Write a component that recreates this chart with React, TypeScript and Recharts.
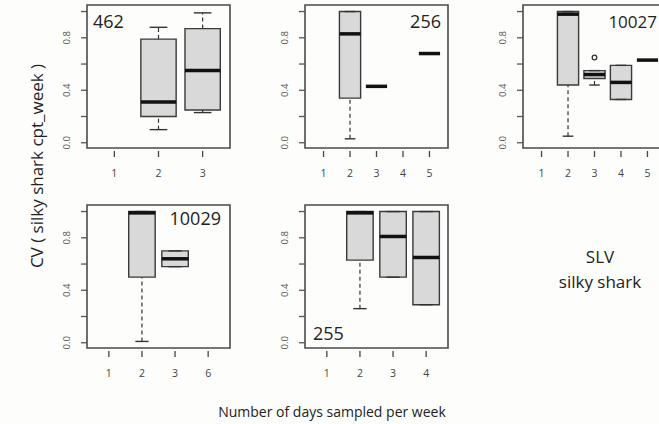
import React from 'react';
import { ComposedChart, XAxis, YAxis, ReferenceArea, ReferenceLine, Scatter } from 'recharts';

// box stats per group: [lower whisker, Q1, median, Q3, upper whisker]
type Box = [number, number, number, number, number] | null;
type Pt = { x: number; y: number };

const days462 = ['1', '2', '3'];
const box462: Box[] = [null, [0.1, 0.2, 0.31, 0.79, 0.88], [0.23, 0.25, 0.55, 0.87, 0.99]];
const out462: Pt[] = [];

const days256 = ['1', '2', '3', '4', '5'];
const box256: Box[] = [null, [0.03, 0.34, 0.83, 1.0, 1.0], [0.43, 0.43, 0.43, 0.43, 0.43], null, [0.68, 0.68, 0.68, 0.68, 0.68]];
const out256: Pt[] = [];

const days10027 = ['1', '2', '3', '4', '5'];
const box10027: Box[] = [null, [0.05, 0.44, 0.98, 1.0, 1.0], [0.44, 0.49, 0.52, 0.55, 0.55], [0.33, 0.33, 0.46, 0.59, 0.59], [0.63, 0.63, 0.63, 0.63, 0.63]];
const out10027: Pt[] = [{ x: 3, y: 0.65 }];

const days10029 = ['1', '2', '3', '6'];
const box10029: Box[] = [null, [0.01, 0.5, 0.99, 1.0, 1.0], [0.58, 0.58, 0.64, 0.7, 0.7], null];
const out10029: Pt[] = [];

const days255 = ['1', '2', '3', '4'];
const box255: Box[] = [null, [0.26, 0.63, 0.99, 1.0, 1.0], [0.5, 0.5, 0.81, 1.0, 1.0], [0.29, 0.29, 0.65, 1.0, 1.0]];
const out255: Pt[] = [];

const yTicks = [0, 0.2, 0.4, 0.6, 0.8, 1.0];
const yLabels = ['0.0', '', '0.4', '', '0.8', ''];

const FONT = '"Open Sans", "Noto Sans", sans-serif';
const Y_LO = -0.04;
const Y_HI = 1.05;

const YTick = (props: any) => {
  const { x, y, payload } = props;
  const i = yTicks.indexOf(payload.value);
  const txt = i >= 0 ? yLabels[i] : '';
  if (!txt) return null;
  return (
    <text
      x={x - 12}
      y={y}
      transform={`rotate(-90 ${x - 12} ${y})`}
      textAnchor="middle"
      dominantBaseline="central"
      fontSize={9.5}
      fill="#555"
      fontFamily={FONT}
    >
      {txt}
    </text>
  );
};

interface PanelProps {
  days: string[];
  boxes: Box[];
  outliers: Pt[];
  left: number;
  top: number;
}

const Panel: React.FC<PanelProps> = ({ days, boxes, outliers, left, top }) => {
  const n = days.length;
  const x0 = 0.5 - 0.04 * n;
  const x1 = n + 0.5 + 0.04 * n;
  const xTicks = days.map((_, i) => i + 1);

  const XTick = (props: any) => {
    const { x, y, payload } = props;
    return (
      <g>
        <line x1={x} x2={x} y1={y + 3} y2={y + 9} stroke="#444" strokeWidth={1.3} />
        <text x={x} y={y + 29} textAnchor="middle" fontSize={10.5} fill="#444" fontFamily={FONT}>
          {days[payload.value - 1]}
        </text>
      </g>
    );
  };

  const marks: React.ReactNode[] = [];
  boxes.forEach((b, i) => {
    if (!b) return;
    const x = i + 1;
    const [lo, q1, med, q3, hi] = b;
    const k = `g${i}`;
    if (lo < q1)
      marks.push(
        <ReferenceLine key={k + 'wl'} segment={[{ x, y: lo }, { x, y: q1 }]} stroke="#333" strokeWidth={1.2} strokeDasharray="4 3" ifOverflow="visible" />
      );
    if (hi > q3)
      marks.push(
        <ReferenceLine key={k + 'wh'} segment={[{ x, y: q3 }, { x, y: hi }]} stroke="#333" strokeWidth={1.2} strokeDasharray="4 3" ifOverflow="visible" />
      );
    marks.push(
      <ReferenceLine key={k + 'cl'} segment={[{ x: x - 0.2, y: lo }, { x: x + 0.2, y: lo }]} stroke="#333" strokeWidth={1.4} ifOverflow="visible" />
    );
    marks.push(
      <ReferenceLine key={k + 'ch'} segment={[{ x: x - 0.2, y: hi }, { x: x + 0.2, y: hi }]} stroke="#333" strokeWidth={1.4} ifOverflow="visible" />
    );
    if (q3 > q1)
      marks.push(
        <ReferenceArea key={k + 'b'} x1={x - 0.4} x2={x + 0.4} y1={q1} y2={q3} fill="#d9d9d9" fillOpacity={1} stroke="#3a3a3a" strokeWidth={1.4} ifOverflow="visible" />
      );
    marks.push(
      <ReferenceLine key={k + 'm'} segment={[{ x: x - 0.4, y: med }, { x: x + 0.4, y: med }]} stroke="#111" strokeWidth={3.5} ifOverflow="visible" />
    );
  });

  return (
    <div style={{ position: 'absolute', left: left - 40, top: top - 5 }}>
      <ComposedChart width={187} height={182} margin={{ top: 5, right: 4, bottom: 0, left: 10 }}>
        <XAxis
          dataKey="x"
          type="number"
          domain={[x0, x1]}
          allowDataOverflow
          ticks={xTicks}
          interval={0}
          axisLine={false}
          tickLine={false}
          tickSize={0}
          tickMargin={0}
          height={34}
          tick={<XTick />}
        />
        <YAxis
          type="number"
          domain={[Y_LO, Y_HI]}
          allowDataOverflow
          ticks={yTicks}
          interval={0}
          axisLine={false}
          tickLine={{ stroke: '#555', strokeWidth: 1.3 }}
          tickSize={6}
          tickMargin={2}
          width={30}
          tick={<YTick />}
        />
        <ReferenceArea x1={x0} x2={x1} y1={Y_LO} y2={Y_HI} fill="none" stroke="#4a4a4a" strokeWidth={1.6} ifOverflow="visible" />
        {marks}
        <Scatter
          data={outliers}
          dataKey="y"
          isAnimationActive={false}
          shape={(p: any) => <circle cx={p.cx} cy={p.cy} r={2.3} fill="none" stroke="#333" strokeWidth={1.3} />}
        />
      </ComposedChart>
    </div>
  );
};

export default function App() {
  return (
    <div
      style={{
        position: 'fixed',
        left: 0,
        top: 0,
        width: 659,
        height: 424,
        overflow: 'hidden',
        background: '#fdfdfc',
        fontFamily: FONT,
      }}
    >
      <Panel days={days462} boxes={box462} outliers={out462} left={87} top={5} />
      <Panel days={days256} boxes={box256} outliers={out256} left={305} top={5} />
      <Panel days={days10027} boxes={box10027} outliers={out10027} left={523} top={5} />
      <Panel days={days10029} boxes={box10029} outliers={out10029} left={87} top={205} />
      <Panel days={days255} boxes={box255} outliers={out255} left={305} top={205} />
      <svg width={659} height={424} style={{ position: 'absolute', left: 0, top: 0, pointerEvents: 'none' }}>
        <g fontFamily={FONT} fill="#222">
          <text x={93} y={28} fontSize={18}>462</text>
          <text x={441} y={28} fontSize={18} textAnchor="end">256</text>
          <text x={657} y={28} fontSize={17} textAnchor="end">10027</text>
          <text x={221} y={225} fontSize={18} textAnchor="end">10029</text>
          <text x={313} y={340} fontSize={18}>255</text>
          <text x={600} y={263} fontSize={17} textAnchor="middle">SLV</text>
          <text x={600} y={288} fontSize={17} textAnchor="middle">silky shark</text>
          <text x={332} y={417} fontSize={14} textAnchor="middle">Number of days sampled per week</text>
          <text
            x={36}
            y={166}
            fontSize={17}
            textAnchor="middle"
            dominantBaseline="central"
            transform="rotate(-90 36 166)"
          >
            CV ( silky shark  cpt_week )
          </text>
        </g>
      </svg>
    </div>
  );
}
